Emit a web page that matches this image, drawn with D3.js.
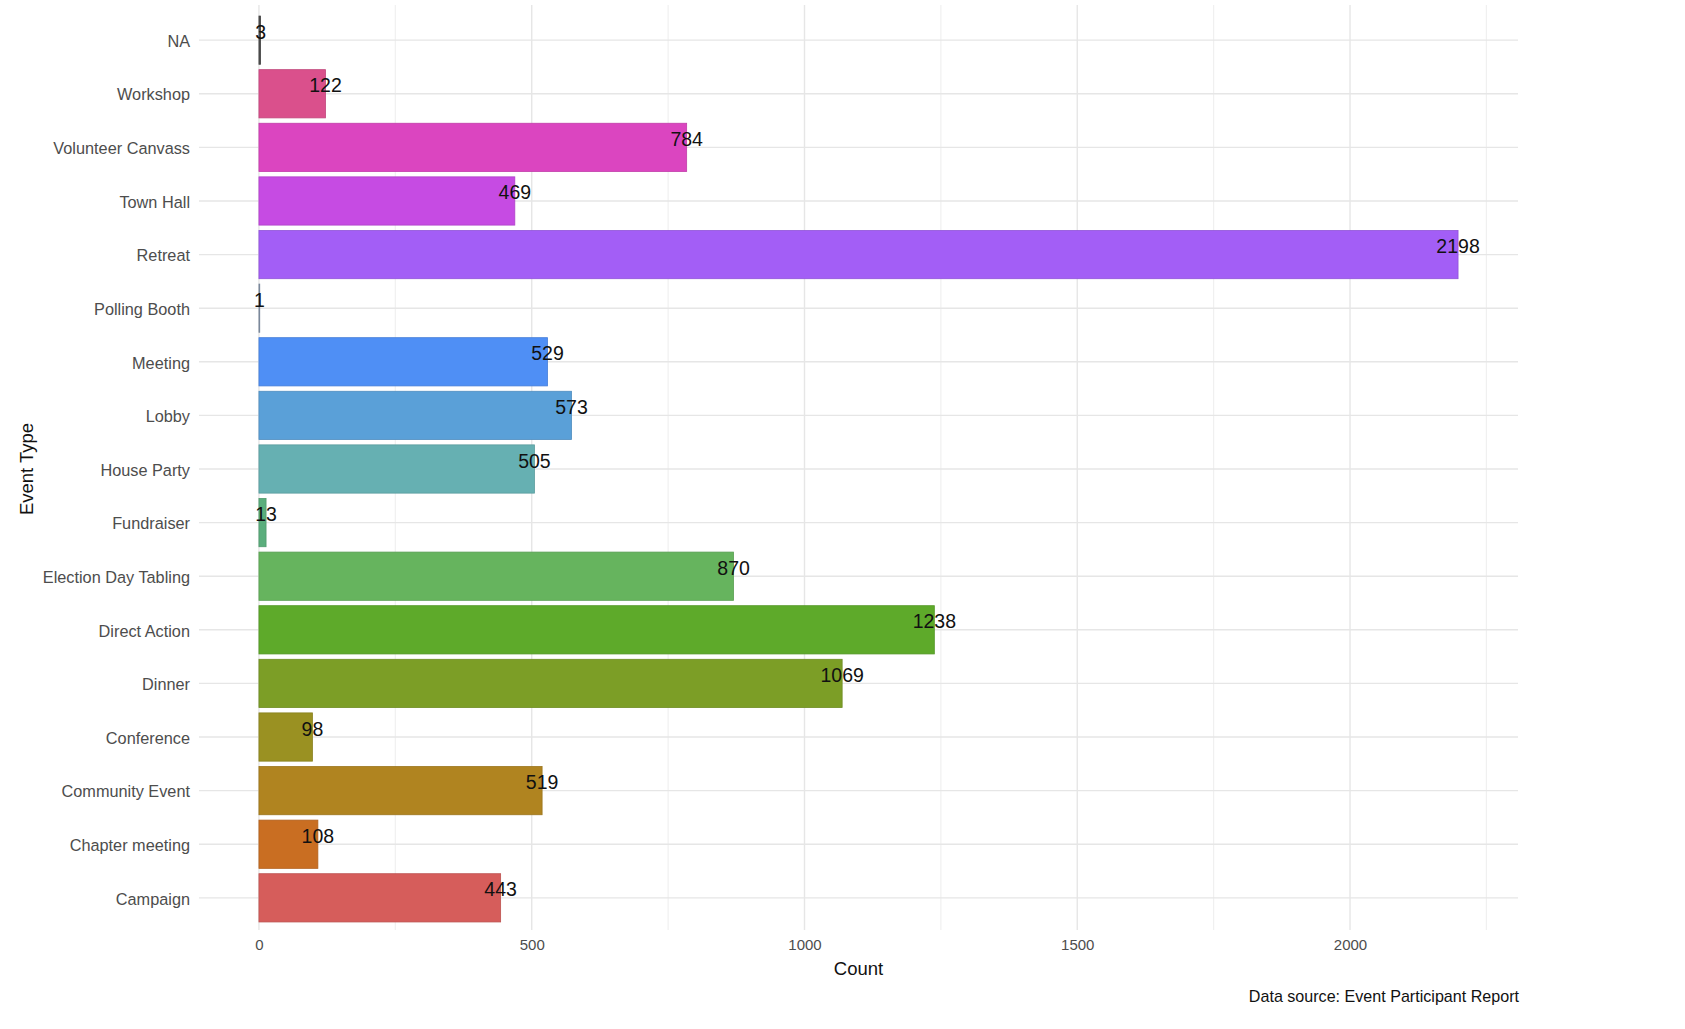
<!DOCTYPE html>
<html>
<head>
<meta charset="utf-8">
<script src="https://cdn.jsdelivr.net/npm/d3@7"></script>
<style>
  html, body { margin: 0; padding: 0; background: #ffffff; }
  svg { display: block; font-family: "Liberation Sans", Arial, sans-serif; }
</style>
</head>
<body>
<svg id="chart" width="1685" height="1029"></svg>
<script>
// Categories from bottom to top (as drawn from the bottom of the chart upward)
const categories = ["Campaign", "Chapter meeting", "Community Event", "Conference", "Dinner",
  "Direct Action", "Election Day Tabling", "Fundraiser", "House Party", "Lobby", "Meeting",
  "Polling Booth", "Retreat", "Town Hall", "Volunteer Canvass", "Workshop", "NA"];
const counts = [443, 108, 519, 98, 1069, 1238, 870, 13, 505, 573, 529, 1, 2198, 469, 784, 122, 3];
const barColors = ["#D65D5B", "#C96E22", "#B08420", "#9A9122", "#7C9E26", "#5EAA2A", "#66B45E",
  "#5AAE7C", "#66B0B2", "#5AA0D8", "#4F8FF5", "#8A9AB0", "#A35EF6", "#C64BE3", "#DB45C0",
  "#DA508C", "#4D4D4D"];
const xTicks = [0, 500, 1000, 1500, 2000];
const xMinor = [250, 750, 1250, 1750, 2250];
const xTitle = "Count";
const yTitle = "Event Type";
const caption = "Data source: Event Participant Report";

const svg = d3.select("#chart");
const panel = { left: 199, right: 1518, top: 8, bottom: 930 };

const maxV = d3.max(counts);
const x = d3.scaleLinear()
  .domain([-0.05 * maxV, maxV * 1.05])
  .range([panel.left, panel.right]);

// top-to-bottom order for the band scale
const yOrder = categories.slice().reverse();
const y = d3.scaleBand()
  .domain(yOrder)
  .range([panel.top, panel.bottom])
  .paddingInner(0.1)
  .paddingOuter(0.15);
const center = d => y(d) + y.bandwidth() / 2;

const g = svg.append("g");

// minor vertical gridlines
g.selectAll(".minor").data(xMinor).enter().append("line")
  .attr("x1", d => x(d)).attr("x2", d => x(d))
  .attr("y1", panel.top - 3).attr("y2", panel.bottom)
  .attr("stroke", "#F0F0F0").attr("stroke-width", 1.2);

// major vertical gridlines
g.selectAll(".major").data(xTicks).enter().append("line")
  .attr("x1", d => x(d)).attr("x2", d => x(d))
  .attr("y1", panel.top - 3).attr("y2", panel.bottom)
  .attr("stroke", "#E6E6E6").attr("stroke-width", 1.4);

// horizontal gridlines
g.selectAll(".hgrid").data(yOrder).enter().append("line")
  .attr("x1", panel.left).attr("x2", panel.right)
  .attr("y1", d => center(d)).attr("y2", d => center(d))
  .attr("stroke", "#E6E6E6").attr("stroke-width", 1.4);

// bars
const data = categories.map((c, i) => ({ cat: c, v: counts[i], color: barColors[i] }));
g.selectAll(".bar").data(data).enter().append("rect")
  .attr("x", x(0))
  .attr("y", d => y(d.cat))
  .attr("width", d => Math.max(x(d.v) - x(0), 0.8))
  .attr("height", y.bandwidth())
  .attr("fill", d => d.color)
  .attr("stroke", d => d3.color(d.color).darker(0.35))
  .attr("stroke-width", 0.8);

// value labels
g.selectAll(".val").data(data).enter().append("text")
  .attr("x", d => x(d.v))
  .attr("y", d => center(d.cat) - 1.5)
  .attr("text-anchor", "middle")
  .attr("font-size", 19.5)
  .attr("fill", "#111")
  .text(d => d.v);

// y axis labels
const yAxis = d3.axisLeft(y).tickSize(0).tickPadding(9);
const yg = svg.append("g").attr("transform", `translate(${panel.left},1.5)`).call(yAxis);
yg.select(".domain").remove();
yg.selectAll("text").attr("font-size", 16.3).attr("fill", "#4D4D4D")
  .attr("font-family", "'Liberation Sans', Arial, sans-serif");

// x axis labels
const xAxis = d3.axisBottom(x).tickValues(xTicks).tickSize(0).tickPadding(0).tickFormat(d3.format("d"));
const xg = svg.append("g").attr("transform", `translate(0,${panel.bottom + 9})`).call(xAxis);
xg.select(".domain").remove();
xg.selectAll("text").attr("font-size", 15).attr("fill", "#4D4D4D").attr("dy", "0.71em")
  .attr("font-family", "'Liberation Sans', Arial, sans-serif");

// axis titles
svg.append("text")
  .attr("x", (panel.left + panel.right) / 2).attr("y", 975)
  .attr("text-anchor", "middle").attr("font-size", 18.5).attr("fill", "#111")
  .text(xTitle);
svg.append("text")
  .attr("transform", `translate(33,${(panel.top + panel.bottom) / 2}) rotate(-90)`)
  .attr("text-anchor", "middle").attr("font-size", 18.5).attr("fill", "#111")
  .text(yTitle);

// caption
svg.append("text")
  .attr("x", 1519).attr("y", 1002)
  .attr("text-anchor", "end").attr("font-size", 16.1).attr("fill", "#111")
  .text(caption);
</script>
</body>
</html>
